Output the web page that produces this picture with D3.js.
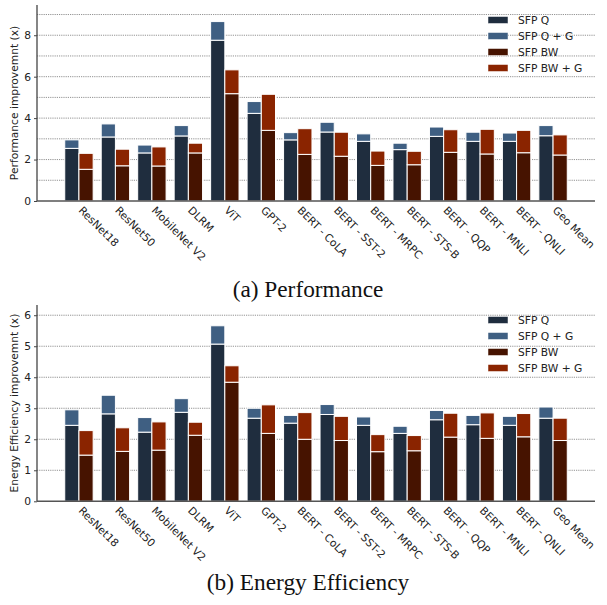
<!DOCTYPE html>
<html>
<head>
<meta charset="utf-8">
<script src="https://cdn.jsdelivr.net/npm/d3@7/dist/d3.min.js"></script>
<style>
  html, body { margin: 0; padding: 0; background: #fff; }
  svg { display: block; }
  .cap { font-family: "Liberation Serif", "Times New Roman", Times, serif; }
</style>
</head>
<body>
<svg id="chart" width="607" height="605"></svg>
<script>
const categories = ["ResNet18", "ResNet50", "MobileNet V2", "DLRM", "ViT", "GPT-2",
  "BERT - CoLA", "BERT - SST-2", "BERT - MRPC", "BERT - STS-B", "BERT - QQP",
  "BERT - MNLI", "BERT - QNLI", "Geo Mean"];

// Performance improvement (x)
const perfSfpQ    = [2.54, 3.09, 2.32, 3.14, 7.76, 4.23, 2.95, 3.33, 2.88, 2.48, 3.12, 2.88, 2.88, 3.15];
const perfSfpQG   = [2.95, 3.72, 2.70, 3.64, 8.66, 4.80, 3.30, 3.80, 3.24, 2.79, 3.57, 3.32, 3.28, 3.64];
const perfSfpBW   = [1.53, 1.70, 1.69, 2.32, 5.18, 3.41, 2.25, 2.16, 1.72, 1.75, 2.35, 2.27, 2.33, 2.22];
const perfSfpBWG  = [2.30, 2.50, 2.61, 2.79, 6.33, 5.15, 3.49, 3.32, 2.41, 2.40, 3.44, 3.46, 3.41, 3.19];

// Energy efficiency improvement (x)
const energySfpQ   = [2.45, 2.82, 2.23, 2.87, 5.07, 2.68, 2.52, 2.80, 2.45, 2.19, 2.63, 2.47, 2.45, 2.68];
const energySfpQG  = [2.95, 3.42, 2.70, 3.31, 5.66, 3.00, 2.77, 3.12, 2.72, 2.42, 2.93, 2.77, 2.74, 3.04];
const energySfpBW  = [1.49, 1.61, 1.65, 2.13, 3.84, 2.19, 2.00, 1.96, 1.60, 1.63, 2.07, 2.03, 2.08, 1.96];
const energySfpBWG = [2.28, 2.37, 2.56, 2.55, 4.37, 3.11, 2.86, 2.74, 2.15, 2.12, 2.84, 2.85, 2.83, 2.68];

const seriesNames = ["SFP Q", "SFP Q + G", "SFP BW", "SFP BW + G"];
const perfTicks = [0, 2, 4, 6, 8];
const perfGrid = [1, 2, 3, 4, 5, 6, 7, 8, 9];
const energyTicks = [0, 1, 2, 3, 4, 5, 6];
const energyGrid = [1, 2, 3, 4, 5, 6];

const colors = {"SFP Q": "#1f2d3e", "SFP Q + G": "#3f5f82", "SFP BW": "#461300", "SFP BW + G": "#8a2400"};

const svg = d3.select("#chart");
const font = "DejaVu Sans, sans-serif";
const fs = 10.7;

function drawPanel(opts) {
  const {top, bottom, left, right, yMax, ticks, grid, q, qg, bw, bwg, ylabel, caption, captionY} = opts;
  const g = svg.append("g");
  const x = d3.scaleBand().domain(categories).range([left, right]).paddingInner(0).paddingOuter(0.65);
  const y = d3.scaleLinear().domain([0, yMax]).range([bottom, top]);
  const bw_ = 14.2;

  // gridlines
  g.append("g").selectAll("line").data(grid).join("line")
    .attr("x1", left).attr("x2", right)
    .attr("y1", d => y(d)).attr("y2", d => y(d))
    .attr("stroke", "#777").attr("stroke-width", 0.8)
    .attr("stroke-dasharray", "1.2,1");

  const rows = categories.map((c, i) => ({c, q: q[i], qg: qg[i], bw: bw[i], bwg: bwg[i]}));
  const bars = g.append("g");
  const addBar = (xf, y0f, y1f, color) => {
    bars.append("g").selectAll("rect").data(rows).join("rect")
      .attr("x", xf)
      .attr("width", bw_)
      .attr("y", d => y(y1f(d)))
      .attr("height", d => y(y0f(d)) - y(y1f(d)))
      .attr("fill", color)
      .attr("stroke", "#fff").attr("stroke-width", 1);
  };
  const cx = d => x(d.c) + x.bandwidth() / 2;
  addBar(d => cx(d) - bw_, d => 0, d => d.q, colors["SFP Q"]);
  addBar(d => cx(d) - bw_, d => d.q, d => d.qg, colors["SFP Q + G"]);
  addBar(d => cx(d), d => 0, d => d.bw, colors["SFP BW"]);
  addBar(d => cx(d), d => d.bw, d => d.bwg, colors["SFP BW + G"]);

  // y axis
  const yAxis = g.append("g").attr("transform", `translate(${left},0)`)
    .call(d3.axisLeft(y).tickValues(ticks).tickSize(3).tickPadding(3).tickFormat(d3.format("d")));
  yAxis.select(".domain").remove();
  yAxis.selectAll("line").attr("stroke", "#444");
  yAxis.selectAll("text").attr("font-family", font).attr("font-size", fs).attr("fill", "#222");
  g.append("line").attr("x1", left).attr("x2", left).attr("y1", top).attr("y2", bottom)
    .attr("stroke", "#444").attr("stroke-width", 1.3);

  // x axis
  g.append("line").attr("x1", left).attr("x2", right).attr("y1", bottom).attr("y2", bottom)
    .attr("stroke", "#555").attr("stroke-width", 1.6);
  g.append("g").selectAll("text").data(categories).join("text")
    .attr("transform", d => `translate(${x(d) + x.bandwidth() / 2 - 1},${bottom + 10}) rotate(45)`)
    .attr("text-anchor", "start")
    .attr("font-family", font).attr("font-size", fs).attr("fill", "#222")
    .text(d => d);

  // y label
  g.append("text")
    .attr("transform", `translate(18,${(top + bottom) / 2}) rotate(-90)`)
    .attr("text-anchor", "middle")
    .attr("font-family", font).attr("font-size", fs).attr("fill", "#222")
    .text(ylabel);

  // legend
  const lg = g.append("g");
  seriesNames.forEach((s, i) => {
    const ly = top + 15 + i * 16;
    lg.append("rect").attr("x", 488).attr("y", ly - 3.5).attr("width", 20).attr("height", 7)
      .attr("fill", colors[s]).attr("stroke", "#fff").attr("stroke-width", 0.5);
    lg.append("text").attr("x", 518).attr("y", ly).attr("dy", "0.35em")
      .attr("font-family", font).attr("font-size", fs).attr("fill", "#222").text(s);
  });

  // caption
  svg.append("text").attr("class", "cap").attr("x", 308).attr("y", captionY)
    .attr("text-anchor", "middle")
    .attr("font-size", 23.3).attr("fill", "#111")
    .text(caption);
}

drawPanel({top: 5, bottom: 201, left: 37, right: 595, yMax: 9.46, ticks: perfTicks, grid: perfGrid,
  q: perfSfpQ, qg: perfSfpQG, bw: perfSfpBW, bwg: perfSfpBWG,
  ylabel: "Performance improvemnt (x)", caption: "(a) Performance", captionY: 297});

drawPanel({top: 305, bottom: 501.3, left: 37, right: 595, yMax: 6.33, ticks: energyTicks, grid: energyGrid,
  q: energySfpQ, qg: energySfpQG, bw: energySfpBW, bwg: energySfpBWG,
  ylabel: "Energy Efficiency improvemnt (x)", caption: "(b) Energy Efficiency", captionY: 590});
</script>
</body>
</html>
